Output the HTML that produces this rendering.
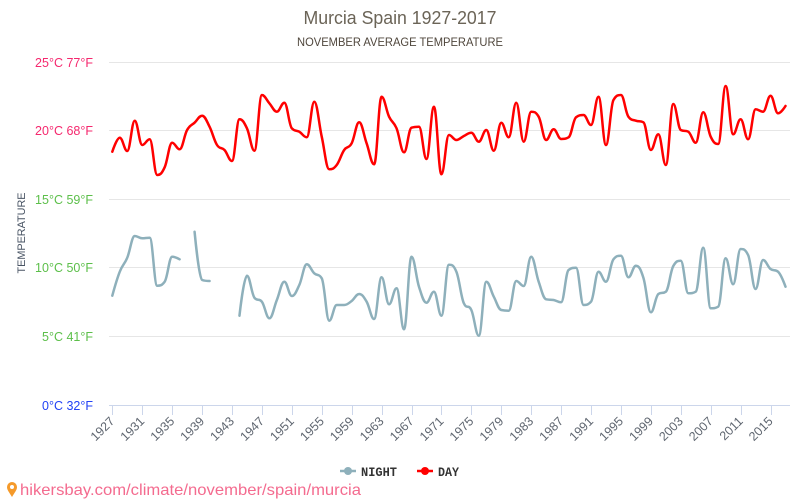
<!DOCTYPE html>
<html>
<head>
<meta charset="utf-8">
<style>
  html,body{margin:0;padding:0;background:#fff;}
  svg{display:block;font-family:"Liberation Sans",sans-serif;}
</style>
</head>
<body>
<svg id="chart" width="800" height="500" viewBox="0 0 800 500" xmlns="http://www.w3.org/2000/svg">
  <rect x="0" y="0" width="800" height="500" fill="#ffffff"/>
  <!-- titles -->
  <text x="400" y="24" text-anchor="middle" font-size="18" fill="#6b6457" textLength="193" lengthAdjust="spacingAndGlyphs">Murcia Spain 1927-2017</text>
  <text x="400" y="46" text-anchor="middle" font-size="11.5" fill="#50473d" textLength="206" lengthAdjust="spacingAndGlyphs">NOVEMBER AVERAGE TEMPERATURE</text>

  <!-- gridlines -->
  <g stroke="#e6e6e6" stroke-width="1">
    <line x1="109" y1="62.5" x2="790" y2="62.5"/>
    <line x1="109" y1="130.5" x2="790" y2="130.5"/>
    <line x1="109" y1="199.5" x2="790" y2="199.5"/>
    <line x1="109" y1="267.5" x2="790" y2="267.5"/>
    <line x1="109" y1="336.5" x2="790" y2="336.5"/>
  </g>
  <!-- x axis -->
  <line x1="109" y1="405.5" x2="790" y2="405.5" stroke="#ccd6eb" stroke-width="1"/>
  <g id="xticks" stroke="#ccd6eb" stroke-width="1"></g>
  <g id="xlabels" font-size="12.5" fill="#5f6670"></g>

  <!-- y labels -->
  <g font-size="12.5" text-anchor="end">
    <text x="93" y="67" fill="#f5286e">25°C 77°F</text>
    <text x="93" y="135" fill="#f5286e">20°C 68°F</text>
    <text x="93" y="204" fill="#5cbf4a">15°C 59°F</text>
    <text x="93" y="272" fill="#5cbf4a">10°C 50°F</text>
    <text x="93" y="341" fill="#5cbf4a">5°C 41°F</text>
    <text x="93" y="410" fill="#2242f5">0°C 32°F</text>
  </g>
  <text transform="translate(25,233) rotate(-90)" text-anchor="middle" font-size="11" fill="#4a5565" textLength="81" lengthAdjust="spacingAndGlyphs">TEMPERATURE</text>

  <!-- series -->
  <g id="series" fill="none" stroke-linejoin="round" stroke-linecap="round"></g>

  <!-- legend -->
  <line x1="340" y1="471" x2="356" y2="471" stroke="#8eb0bb" stroke-width="2.5"/>
  <circle cx="348" cy="471" r="4" fill="#8eb0bb"/>
  <text x="361" y="476" font-family="Liberation Mono, monospace" font-weight="bold" font-size="12.5" fill="#333" textLength="36" lengthAdjust="spacingAndGlyphs">NIGHT</text>
  <line x1="417" y1="471" x2="433" y2="471" stroke="#ff0000" stroke-width="2.5"/>
  <circle cx="425" cy="471" r="4" fill="#ff0000"/>
  <text x="438" y="476" font-family="Liberation Mono, monospace" font-weight="bold" font-size="12.5" fill="#333" textLength="21" lengthAdjust="spacingAndGlyphs">DAY</text>

  <!-- footer -->
  <path d="M12 497 C9 492 7 490 7 487 A5 5 0 0 1 17 487 C17 490 15 492 12 497 Z" fill="#f59a2a"/>
  <circle cx="12" cy="487" r="2" fill="#ffffff"/>
  <text x="20" y="495" font-size="16" fill="#f46b8f" textLength="341" lengthAdjust="spacingAndGlyphs">hikersbay.com/climate/november/spain/murcia</text>
</svg>
<script>
(function(){
  var NS="http://www.w3.org/2000/svg";
  function X(yr){return 112.3+(yr-1927)*7.48;}
  var ticks=document.getElementById('xticks'), labs=document.getElementById('xlabels');
  for(var yr=1927; yr<=2015; yr+=4){
    var x=Math.round(X(yr))+0.5;
    var l=document.createElementNS(NS,'line');
    l.setAttribute('x1',x);l.setAttribute('x2',x);l.setAttribute('y1',405);l.setAttribute('y2',415);
    ticks.appendChild(l);
    var t=document.createElementNS(NS,'text');
    var ax=X(yr)+3, ay=422;
    t.setAttribute('x',ax);t.setAttribute('y',ay);
    t.setAttribute('text-anchor','end');
    t.setAttribute('transform','rotate(-45 '+ax+' '+ay+')');
    t.textContent=yr;
    labs.appendChild(t);
  }
  var day=[151.7,137.7,151,120.7,145,139.3,175,167.3,142.7,149.3,130,122.7,115.7,126.7,145,150,161,119.3,128.3,150.7,95,103.3,111.7,102.7,128.3,131.7,137.3,101.7,136.7,169.3,165,150,143.3,122.3,143.3,164.3,96.7,116.7,128.3,152.3,127.7,126.7,159,106.7,174.3,135,140,136,132.7,141.7,130,150.7,122.7,137.3,102.7,141.7,111.7,116.7,140,129.3,139,137.3,117.3,115,125,96.7,145,100,95,116.7,120.7,122.3,150,134.3,165,104,130,131.7,142.7,112.3,136.7,144,86,134.3,119.3,139.3,109.3,111.7,95.7,113.3,106];
  var night=[295.7,271.7,257.7,236,238.3,237.7,285.7,281.7,256.7,259.3,null,231.7,280,281,null,null,null,315.7,275.7,297.7,301.7,318.3,300,281.7,296,285,264.3,273.3,278.3,320.7,305,305,301,294,301.7,319,277.3,304.3,288.3,329.3,256.7,286.7,302.7,291.7,315.7,264.7,271.7,303.3,310,335.7,281.7,296.7,310,310.7,281,286,256.7,281.7,299.3,300,302.3,270,267.7,305,301.7,271.7,281.7,259.3,255.7,277.3,265.7,277.7,312.3,294,291.7,266,260.7,293.3,291.7,247.7,308.3,306.7,258.3,284.3,249,255,289,260,269,271.7,286.7];
  function segments(arr){
    var segs=[],cur=[];
    for(var i=0;i<arr.length;i++){
      if(arr[i]==null){ if(cur.length) segs.push(cur); cur=[]; }
      else cur.push({x:X(1927+i),y:arr[i]});
    }
    if(cur.length) segs.push(cur);
    return segs;
  }
  function cont(pts,i){
    var s=1.5,d=2.5,p=pts[i],a=pts[i-1],b=pts[i+1];
    if(!a||!b) return null;
    var lcx=(s*p.x+a.x)/d,lcy=(s*p.y+a.y)/d,rcx=(s*p.x+b.x)/d,rcy=(s*p.y+b.y)/d;
    if(rcx!==lcx){var c=((rcy-lcy)*(rcx-p.x))/(rcx-lcx)+p.y-rcy;lcy+=c;rcy+=c;}
    if(lcy>a.y&&lcy>p.y){lcy=Math.max(a.y,p.y);rcy=2*p.y-lcy;}
    else if(lcy<a.y&&lcy<p.y){lcy=Math.min(a.y,p.y);rcy=2*p.y-lcy;}
    if(rcy>b.y&&rcy>p.y){rcy=Math.max(b.y,p.y);lcy=2*p.y-rcy;}
    else if(rcy<b.y&&rcy<p.y){rcy=Math.min(b.y,p.y);lcy=2*p.y-rcy;}
    return {lcx:lcx,lcy:lcy,rcx:rcx,rcy:rcy};
  }
  function pathFor(pts){
    var c=pts.map(function(_,i){return cont(pts,i);});
    var dd='M'+pts[0].x.toFixed(2)+' '+pts[0].y.toFixed(2);
    for(var i=1;i<pts.length;i++){
      var pr=pts[i-1],pc=c[i-1],p=pts[i],cc=c[i];
      var x1=pc?pc.rcx:pr.x,y1=pc?pc.rcy:pr.y,x2=cc?cc.lcx:p.x,y2=cc?cc.lcy:p.y;
      dd+=' C'+x1.toFixed(2)+' '+y1.toFixed(2)+' '+x2.toFixed(2)+' '+y2.toFixed(2)+' '+p.x.toFixed(2)+' '+p.y.toFixed(2);
    }
    return dd;
  }
  var g=document.getElementById('series');
  function draw(arr,color){
    segments(arr).forEach(function(seg){
      var p=document.createElementNS(NS,'path');
      p.setAttribute('d',pathFor(seg));
      p.setAttribute('stroke',color);
      p.setAttribute('stroke-width','2.5');
      g.appendChild(p);
    });
  }
  draw(night,'#8eb0bb');
  draw(day,'#ff0000');
})();
</script>
</body>
</html>
